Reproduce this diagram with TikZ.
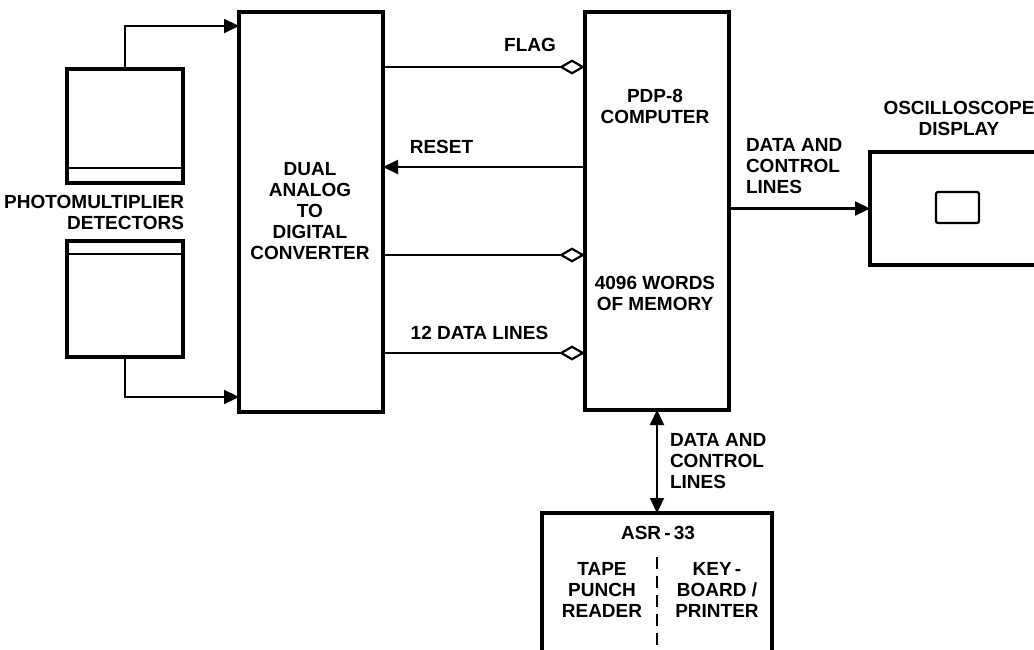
\documentclass[tikz,border=0pt]{standalone}
\usepackage{fontspec}
\setmainfont{Liberation Sans}
\usetikzlibrary{arrows.meta}
\begin{document}
\begin{tikzpicture}[x=1pt,y=-1pt,
  box/.style={draw, line width=3.2pt, inner sep=0pt, outer sep=0pt, rectangle},
  conn/.style={line width=2.2pt},
  lbl/.style={inner sep=0pt, outer sep=0pt, font=\fontsize{19}{21}\selectfont\bfseries},
  tri/.style={-{Triangle[length=15pt,width=14pt]}},
  dia/.style={-{Diamond[open,length=26pt,width=15pt]}},
  strip/.style={line width=2.2pt}]
\useasboundingbox (0,0) rectangle (1034,650);
\clip (0,0) rectangle (1034,650);
% boxes
\node[box, minimum width=116pt, minimum height=114pt] (pmt1) at (125,126) {};
\node[box, minimum width=116pt, minimum height=116pt] (pmt2) at (125,299) {};
\node[box, minimum width=144pt, minimum height=400pt] (adc) at (311,212) {};
\node[box, minimum width=144pt, minimum height=398pt] (pdp) at (657,211) {};
\node[box, minimum width=176pt, minimum height=113pt] (osc) at (958,208.5) {};
\node[draw, line width=2.2pt, rounded corners=2pt, inner sep=0pt, minimum width=43pt, minimum height=31pt] (scr) at (957.5,207.5) {};
\node[box, minimum width=230pt, minimum height=188pt] (asr) at (657,607) {};
% strips
\draw[strip] ([yshift=15pt]pmt1.south west) -- ([yshift=15pt]pmt1.south east);
\draw[strip] ([yshift=-13pt]pmt2.north west) -- ([yshift=-13pt]pmt2.north east);
% labels
\node[lbl, align=right, anchor=east] (pmtlbl) at (184,212) {PHOTOMULTIPLIER\\DETECTORS};
\node[lbl, align=center] (adclbl) at (310,211) {DUAL\\ANALOG\\TO\\DIGITAL\\CONVERTER};
\node[lbl, align=center] (pdplbl) at (655,106) {PDP-8\\COMPUTER};
\node[lbl, align=center] (memlbl) at (655,293) {4096 WORDS\\OF MEMORY};
\node[lbl] (flag) at (530,45) {FLAG};
\node[lbl] (reset) at (441.5,147) {RESET};
\node[lbl] (data12) at (479.5,333) {12 DATA LINES};
\node[lbl, align=left, anchor=west] (dcl1) at (746,166.5) {DATA AND\\CONTROL\\LINES};
\node[lbl, align=center] (osclbl) at (959,118) {OSCILLOSCOPE\\DISPLAY};
\node[lbl, align=left, anchor=west] (dcl2) at (670,461) {DATA AND\\CONTROL\\LINES};
\node[lbl] (asrlbl) at (658,533) {ASR\,-\,33};
\node[lbl, align=center] (tape) at (602,590) {TAPE\\PUNCH\\READER};
\node[lbl, align=center] (kbd) at (717,590) {KEY\,-\\BOARD /\\PRINTER};
% coordinates
\coordinate (yflag) at (0,67);
\coordinate (yreset) at (0,167);
\coordinate (ymid) at (0,255);
\coordinate (ydata) at (0,353);
\coordinate (ytop) at (0,26);
\coordinate (ybot) at (0,397);
\coordinate (dtop) at (657,557);
% connectors
\draw[conn, tri] (pmt1.north) |- (adc.west |- ytop);
\draw[conn, tri] (pmt2.south) |- (adc.west |- ybot);
\draw[conn, dia] (adc.east |- yflag) -- (pdp.west |- yflag);
\draw[conn, tri] (pdp.west |- yreset) -- (adc.east |- yreset);
\draw[conn, dia] (adc.east |- ymid) -- (pdp.west |- ymid);
\draw[conn, dia] (adc.east |- ydata) -- (pdp.west |- ydata);
\draw[conn, tri] (pdp.east |- osc.west) -- (osc.west);
\draw[conn, {Triangle[length=15pt,width=14pt]}-{Triangle[length=15pt,width=14pt]}] (pdp.south) -- (asr.north);
\draw[line width=2.2pt, dash pattern=on 12pt off 7pt] (dtop) -- (dtop |- asr.south);
\end{tikzpicture}
\end{document}
